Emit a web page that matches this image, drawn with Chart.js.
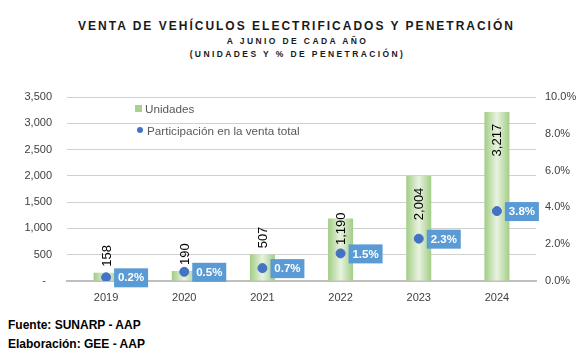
<!DOCTYPE html>
<html>
<head>
<meta charset="utf-8">
<script src="https://cdn.jsdelivr.net/npm/chart.js@4.4.1/dist/chart.umd.min.js"></script>
<style>
  body { margin: 0; background: #fff; width: 587px; height: 354px; position: relative; overflow: hidden; font-family: 'Liberation Sans', Arial, sans-serif; }
  .title { position: absolute; left: 0; width: 587px; text-align: center; font-weight: bold; color: #1a1a1a; }
  .t1 { top: 19px; left: 3px; font-size: 12px; letter-spacing: 2px; }
  .t2 { top: 36px; left: 4px; font-size: 8.5px; letter-spacing: 2.4px; }
  .t3 { top: 49px; left: 4px; font-size: 8.5px; letter-spacing: 2.4px; }
  .wrap { position: absolute; left: 0; top: 80px; width: 587px; height: 230px; }
  .wrap canvas { display: block; }
  .legend { position: absolute; left: 135px; top: 97px; font-size: 11.7px; color: #595959; }
  .legend div { height: 22px; display: flex; align-items: center; position: relative; }
  .sq { width: 7px; height: 7px; background: #a9d18e; margin-right: 3px; }
  .dot { width: 6px; height: 6px; border-radius: 50%; background: #4472c4; margin: 0 4px 0 2px; }
  .foot { position: absolute; left: 8px; font-size: 12px; font-weight: bold; color: #000; }
</style>
</head>
<body>
<div class="title t1">VENTA DE VEHÍCULOS ELECTRIFICADOS Y PENETRACIÓN</div>
<div class="title t2">A JUNIO DE CADA AÑO</div>
<div class="title t3">(UNIDADES Y % DE PENETRACIÓN)</div>
<div class="wrap"><canvas id="myChart" width="587" height="230"></canvas></div>
<div class="legend">
  <div><span class="sq"></span>Unidades</div>
  <div><span class="dot"></span>Participación en la venta total</div>
</div>
<div class="foot" style="top:318px">Fuente: SUNARP - AAP</div>
<div class="foot" style="top:337px">Elaboración: GEE - AAP</div>
<script>
const years = ['2019', '2020', '2021', '2022', '2023', '2024'];
const unidades = [158, 190, 507, 1190, 2004, 3217];
const participacion = [0.002, 0.005, 0.007, 0.015, 0.023, 0.038];
const barPct = 0.32;

function barGradient(context) {
  const chart = context.chart;
  const x = chart.scales.x;
  if (!x || context.dataIndex === undefined) return '#c5e0b4';
  const cx = x.getPixelForValue(context.dataIndex);
  const w = (x.getPixelForValue(1) - x.getPixelForValue(0)) * barPct;
  if (!isFinite(cx) || !isFinite(w) || w <= 0) return '#c5e0b4';
  const g = chart.ctx.createLinearGradient(cx - w / 2, 0, cx + w / 2, 0);
  g.addColorStop(0, '#a2cd85');
  g.addColorStop(0.5, '#e8f3e0');
  g.addColorStop(1, '#a2cd85');
  return g;
}

const labelsPlugin = {
  id: 'labels',
  afterDatasetsDraw(chart) {
    const ctx = chart.ctx;
    const bars = chart.getDatasetMeta(0).data;
    const pts = chart.getDatasetMeta(1).data;
    ctx.save();
    // unidades, rotated
    ctx.font = '13px "Liberation Sans", Arial, sans-serif';
    ctx.fillStyle = '#000';
    bars.forEach((b, i) => {
      const txt = unidades[i].toLocaleString('en-US');
      ctx.save();
      ctx.translate(b.x + 1, b.y);
      ctx.rotate(-Math.PI / 2);
      ctx.textBaseline = 'middle';
      if (unidades[i] >= 1500) {
        ctx.textAlign = 'right';
        ctx.fillText(txt, -12, 0);
      } else if (unidades[i] >= 1000) {
        ctx.textAlign = 'right';
        ctx.fillText(txt, 6, 0);
      } else {
        ctx.textAlign = 'left';
        ctx.fillText(txt, 6, 0);
      }
      ctx.restore();
    });
    // participacion boxes
    ctx.font = 'bold 11.5px "Liberation Sans", Arial, sans-serif';
    ctx.textAlign = 'center';
    ctx.textBaseline = 'middle';
    pts.forEach((p, i) => {
      const txt = (participacion[i] * 100).toFixed(1) + '%';
      const w = 34, h = 19;
      const x0 = p.x + 8, y0 = p.y - h / 2 + 0.5;
      ctx.fillStyle = '#5b9bd5';
      ctx.fillRect(x0, y0, w, h);
      ctx.fillStyle = '#fff';
      ctx.fillText(txt, x0 + w / 2, y0 + h / 2 + 0.5);
    });
    ctx.restore();
  }
};

const tickFont = { family: '"Liberation Sans", Arial, sans-serif', size: 11 };

new Chart(document.getElementById('myChart'), {
  data: {
    labels: years,
    datasets: [{
      type: 'bar',
      label: 'Unidades',
      data: unidades,
      backgroundColor: barGradient,
      categoryPercentage: 1,
      barPercentage: barPct,
      yAxisID: 'y',
      order: 2
    }, {
      type: 'line',
      label: 'Participación en la venta total',
      data: participacion,
      showLine: false,
      pointRadius: 4.5,
      pointBackgroundColor: '#4472c4',
      pointBorderColor: '#4472c4',
      yAxisID: 'y1',
      order: 1
    }]
  },
  options: {
    responsive: false,
    animation: false,
    layout: { padding: { top: 17, left: 0, right: 0, bottom: 0 } },
    plugins: { legend: { display: false }, tooltip: { enabled: false }, title: { display: false } },
    scales: {
      x: {
        grid: { display: false, drawTicks: false },
        border: { display: true, color: '#bfbfbf', width: 2 },
        ticks: { color: '#404040', font: tickFont, padding: 10 },
        afterFit(s) { s.height = 29; }
      },
      y: {
        position: 'left',
        min: 0, max: 3500,
        ticks: {
          stepSize: 500, color: '#404040', font: tickFont, padding: 0,
          callback: v => v === 0 ? '-  ' : v.toLocaleString('en-US')
        },
        grid: { color: '#d0d0d0', borderDash: [1, 2], drawTicks: true, tickLength: 15, tickColor: 'rgba(0,0,0,0)' },
        border: { display: false },
        afterFit(s) { s.width = 67; }
      },
      y1: {
        position: 'right',
        min: 0, max: 0.1,
        ticks: {
          stepSize: 0.02, color: '#404040', font: tickFont, padding: 0,
          callback: v => (v * 100).toFixed(1) + '%'
        },
        grid: { drawOnChartArea: false, drawTicks: true, tickLength: 9, tickColor: 'rgba(0,0,0,0)' },
        border: { display: false },
        afterFit(s) { s.width = 51; }
      }
    }
  },
  plugins: [labelsPlugin]
});
</script>
</body>
</html>
